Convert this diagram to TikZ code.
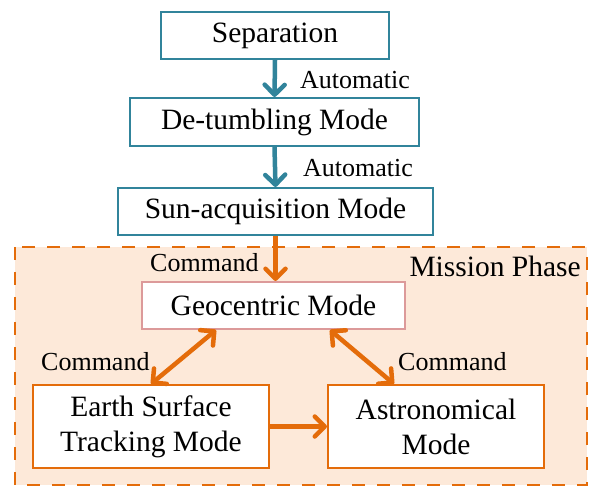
\documentclass[tikz,border=0pt]{standalone}
\usepackage{fontspec}
\setmainfont{Liberation Serif}
\usetikzlibrary{arrows.meta}
\definecolor{teal1}{HTML}{31849B}
\definecolor{orng}{HTML}{E46C0A}
\definecolor{pinkb}{HTML}{DC9A9A}
\definecolor{peach}{HTML}{FDE9D9}
\tikzset{
  boxtext/.style={font=\fontsize{29.5}{35}\selectfont, align=center, inner sep=0pt},
  tealbox/.style={boxtext, draw=teal1, line width=2pt, fill=white},
  orbox/.style={boxtext, draw=orng, line width=2pt, fill=white},
  geobox/.style={boxtext, draw=pinkb, line width=2pt, fill=white},
  lbl/.style={font=\fontsize{26}{30}\selectfont, inner sep=0pt, anchor=base west},
  tip/.tip={Straight Barb[length=10pt,width=20pt,round]},
  tarrow/.style={draw=teal1, line width=4.5pt, -tip},
  oarrow/.style={draw=orng, line width=4.5pt, -tip},
  odarrow/.style={draw=orng, line width=4.5pt, tip-tip},
}
\begin{document}
\begin{tikzpicture}[x=1pt,y=-1pt]
\useasboundingbox (0,0) rectangle (589,486);
% mission phase area
\draw[draw=orng, fill=peach, line width=2.5pt, dash pattern=on 13pt off 12pt] (15,247) rectangle (587,485);
\node[lbl, font=\fontsize{29.5}{35}\selectfont, anchor=base east] (mp) at (581,277) {Mission Phase};

\node[tealbox, minimum width=228pt, minimum height=47pt] (sep) at (275,35.5) {Separation};
\node[tealbox, minimum width=289pt, minimum height=48pt] (det) at (274.5,122) {De-tumbling Mode};
\node[tealbox, minimum width=315pt, minimum height=47pt] (sun) at (275.5,211.5) {Sun-acquisition Mode};
\node[geobox, minimum width=263pt, minimum height=47pt] (geo) at (273.5,305.5) {Geocentric Mode};
\node[orbox, minimum width=236pt, minimum height=83pt] (earth) at (151,426.5) {Earth Surface\\Tracking Mode};
\node[orbox, minimum width=216pt, minimum height=83pt] (astro) at (436,426.5) {Astronomical\\Mode};

\draw[tarrow] (sep.south) -- (det.north);
\draw[tarrow] (det.south) -- (sun.north);
\draw[oarrow] (sun.south) -- (sun.south |- geo.north);
\draw[odarrow] ([xshift=-57.5pt]geo.south) -- (earth.north);
\draw[odarrow] ([xshift=56.5pt]geo.south) -- ([xshift=-42pt]astro.north);
\draw[oarrow] (earth.east) -- (astro.west);

\node[lbl] (a1) at (300,89) {Automatic};
\node[lbl] (a2) at (303,177) {Automatic};
\node[lbl] (c0) at (150,272) {Command};
\node[lbl] (c1) at (41,370) {Command};
\node[lbl] (c2) at (398,370) {Command};
\end{tikzpicture}
\end{document}
